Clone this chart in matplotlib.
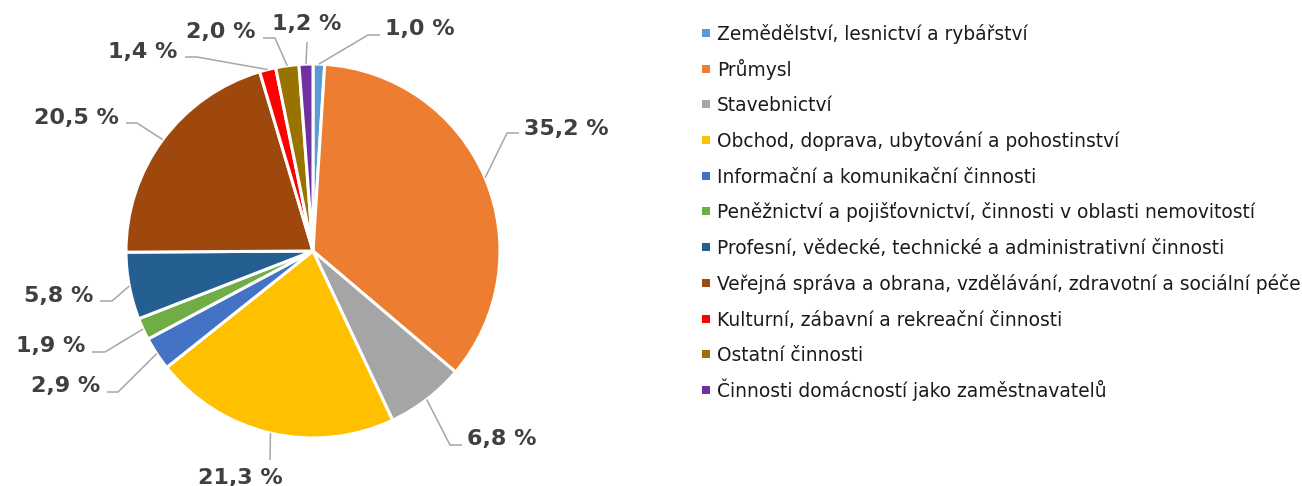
import matplotlib
matplotlib.use('Agg')
import matplotlib.pyplot as plt
import numpy as np

categories = [
    "Zemědělství, lesnictví a rybářství",
    "Průmysl",
    "Stavebnictví",
    "Obchod, doprava, ubytování a pohostinství",
    "Informační a komunikační činnosti",
    "Peněžnictví a pojišťovnictví, činnosti v oblasti nemovitostí",
    "Profesní, vědecké, technické a administrativní činnosti",
    "Veřejná správa a obrana, vzdělávání, zdravotní a sociální péče",
    "Kulturní, zábavní a rekreační činnosti",
    "Ostatní činnosti",
    "Činnosti domácností jako zaměstnavatelů",
]
shares = [1.0, 35.2, 6.8, 21.3, 2.9, 1.9, 5.8, 20.5, 1.4, 2.0, 1.2]
colors = ['#5B9BD5', '#ED7D31', '#A5A5A5', '#FFC000', '#4472C4', '#70AD47',
          '#255E91', '#9E480E', '#FF0000', '#997300', '#7030A0']

W, H = 1302, 486
fig = plt.figure(figsize=(W / 100, H / 100), dpi=100)
ax = fig.add_axes([0, 0, 1, 1])

CX, CY, R = 313, H - 251, 187
wedges, _ = ax.pie(shares, colors=colors, startangle=90, counterclock=False,
                   center=(CX, CY), radius=R,
                   wedgeprops=dict(edgecolor='white', linewidth=2.2))
ax.set_xlim(0, W)
ax.set_ylim(0, H)
ax.set_aspect('equal')
ax.axis('off')

# layout of data labels in pixel coords (y from top):
# text centre x, text baseline y, elbow point (or None), leader end near text
label_layout = [
    (420, 35, (368, 35), (380, 35)),
    (566, 135, (507, 133), (519, 133)),
    (502, 445, (450, 445), (462, 445)),
    (240, 484, None, (270, 460)),
    (66, 392, (118, 392), (107, 392)),
    (51, 352, (105, 352), (92, 352)),
    (59, 302, (112, 301), (100, 301)),
    (76, 124, (137, 123), (126, 123)),
    (143, 58, (197, 57), (185, 57)),
    (221, 38, (275, 38), (263, 38)),
    (307, 30, None, (307, 42)),
]

label_color = '#404040'
leader_color = '#A6A6A6'
for w, v, (tx, ty, elbow, end) in zip(wedges, shares, label_layout):
    mid = np.deg2rad((w.theta1 + w.theta2) / 2)
    ex, ey = CX + R * np.cos(mid), CY + R * np.sin(mid)
    xs, ys = [ex], [ey]
    if elbow is not None:
        xs.append(elbow[0]); ys.append(H - elbow[1])
    xs.append(end[0]); ys.append(H - end[1])
    ax.plot(xs, ys, color=leader_color, lw=1.1, solid_capstyle='butt', zorder=1)
    txt = f"{v:.1f} %".replace('.', ',')
    ax.text(tx, H - ty, txt, ha='center', va='baseline', fontsize=16,
            fontweight='bold', color=label_color, family='DejaVu Sans')

# legend
renderer = fig.canvas.get_renderer()
longest = max(categories, key=len)
probe = ax.text(0, 0, longest, fontsize=12, family='DejaVu Sans')
wpx = probe.get_window_extent(renderer).width
probe.remove()
leg_fs = 12 * 583 / wpx

LX_MARK, LX_TEXT, LY0, LDY = 706, 717, 33, 35.7
for i, (cat, col) in enumerate(zip(categories, colors)):
    y = LY0 + i * LDY
    ax.scatter([LX_MARK], [H - y], marker='s', s=34, color=col, linewidths=0,
               zorder=3, clip_on=False)
    ax.text(LX_TEXT, H - (y + 7), cat, ha='left', va='baseline', fontsize=leg_fs,
            color='#1a1a1a', family='DejaVu Sans')

fig.savefig('out.png', dpi=100)
